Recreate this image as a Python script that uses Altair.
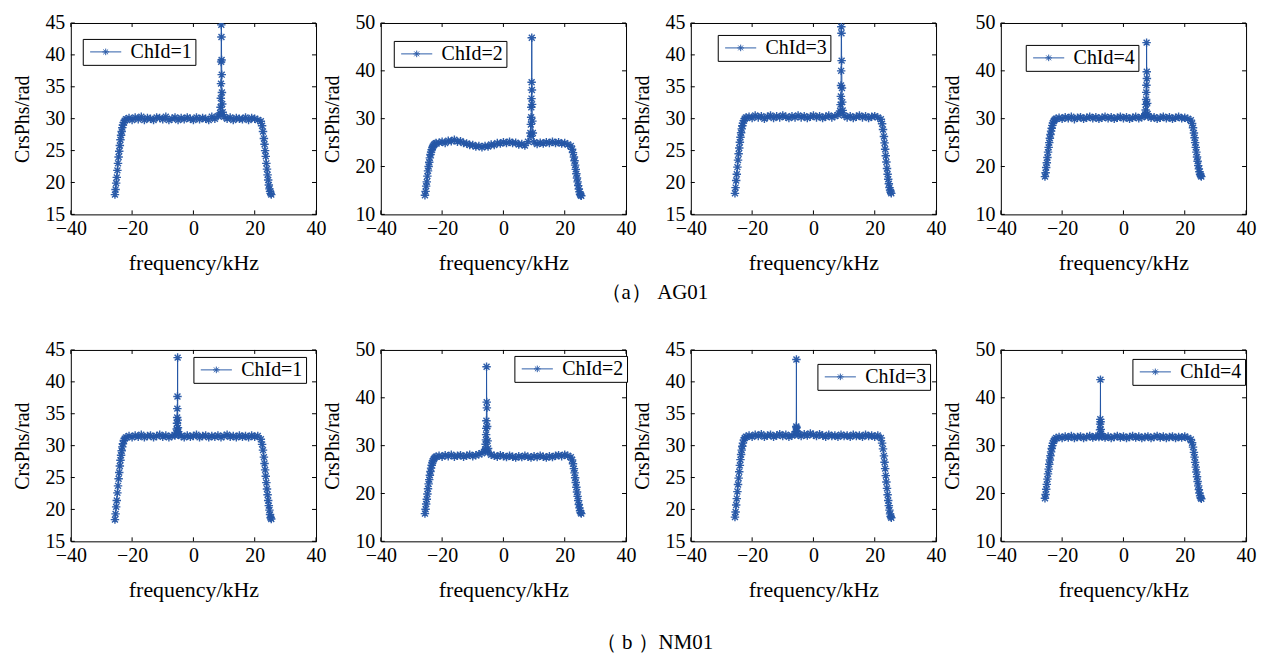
import altair as alt
import pandas as pd

BLUE = "#2456a6"
FONT = "Liberation Serif"
STAR = "M-1,0H1M0,-1V1M-0.7,-0.7L0.7,0.7M-0.7,0.7L0.7,-0.7"
LEG_SYM = "M-2.6,0H2.6M-0.55,0H0.55M0,-0.55V0.55M-0.4,-0.4L0.4,0.4M-0.4,0.4L0.4,-0.4"
W, H = 246, 192

# common frequency grid (kHz) for the body of each curve
F_LEFT = [-25.6, -25.4, -25.2, -25.0, -24.8, -24.6, -24.4, -24.2, -24.0, -23.8,
          -23.6, -23.4, -23.2, -23.0, -22.7, -22.4, -22.0]
F_FLAT = [-21, -20, -19, -18, -17, -16, -15, -14, -13, -12, -11, -10, -9, -8, -7,
          -6, -5, -4, -3, -2, -1, 0, 1, 2, 3, 4, 5, 6, 7, 8, 9, 10, 11, 12, 13, 14,
          15, 16, 17, 18, 19, 20, 21]
F_RIGHT = [22.0, 22.4, 22.7, 23.0, 23.2, 23.4, 23.6, 23.8, 24.0, 24.2, 24.4, 24.6,
           24.8, 25.0, 25.2, 25.4]
BODY_F = F_LEFT + F_FLAT + F_RIGHT

X_TICKS = [-40, -20, 0, 20, 40]
Y_TICKS_A = [15, 20, 25, 30, 35, 40, 45]
Y_TICKS_B = [10, 20, 30, 40, 50]

# ---------------- (a) AG01 ----------------
A1_BODY = [18.1, 18.9, 19.9, 20.8, 21.9, 23.0, 24.0, 24.9, 25.8, 26.7, 27.4, 28.0, 28.6, 29.0, 29.4, 29.7, 29.9,
           30.1, 29.8, 30.2, 29.9, 30.3, 29.8, 30.1, 30.0, 29.8, 30.2, 30.1, 29.9, 30.3, 29.8, 30.0, 30.2, 29.8,
           30.1, 29.9, 30.2, 30.0, 29.8, 30.2, 29.9, 30.1, 30.0, 29.8, 30.3, 30.0, 30.4, 30.7, 30.3, 30.0, 30.2,
           29.8, 30.1, 30.0, 29.9, 30.2, 29.8, 30.1, 30.0, 29.8,
           29.6, 28.9, 28.0, 26.9, 26.0, 25.0, 24.1, 23.0, 22.1, 21.2, 20.4, 19.6, 19.0, 18.6, 18.3, 18.1]
A1_SPIKE_F = [8.7, 8.85, 8.95, 9.0, 9.05, 9.1, 9.15, 9.2, 9.25, 9.3, 9.4, 9.55]
A1_SPIKE_V = [30.9, 31.8, 33.2, 35.5, 38.9, 44.7, 42.8, 39.2, 36.9, 34.1, 32.3, 31.0]

A2_BODY = [14.0, 14.8, 15.9, 16.8, 18.0, 19.1, 20.0, 20.9, 21.8, 22.5, 23.0, 23.5, 23.9, 24.2, 24.5, 24.7, 24.9,
           25.0, 25.2, 24.9, 25.4, 25.3, 25.6, 25.2, 25.3, 24.9, 24.8, 24.5, 24.5, 24.2, 24.3, 24.0, 24.3, 24.2,
           24.6, 24.5, 24.9, 24.8, 25.1, 24.9, 25.2, 24.9, 25.0, 24.6, 24.7, 24.4, 25.2, 26.3, 25.1, 24.7, 25.0,
           24.8, 25.1, 24.9, 25.2, 24.9, 25.1, 24.8, 24.9, 24.6,
           24.3, 23.6, 22.9, 22.0, 21.2, 20.3, 19.4, 18.5, 17.6, 16.8, 16.0, 15.3, 14.7, 14.2, 14.0, 13.9]
A2_SPIKE_F = [8.8, 8.95, 9.05, 9.1, 9.15, 9.2, 9.25, 9.3, 9.35, 9.45, 9.6]
A2_SPIKE_V = [27.0, 28.8, 30.3, 32.4, 34.2, 37.6, 46.9, 36.0, 33.0, 29.5, 27.0]

A3_BODY = [18.3, 19.2, 20.3, 21.3, 22.4, 23.5, 24.5, 25.4, 26.3, 27.1, 27.8, 28.4, 28.9, 29.3, 29.7, 30.0, 30.2,
           30.3, 30.1, 30.5, 30.2, 30.4, 30.0, 30.3, 30.5, 30.1, 30.4, 30.2, 30.5, 30.3, 30.1, 30.4, 30.2, 30.5,
           30.2, 30.4, 30.1, 30.3, 30.5, 30.2, 30.4, 30.1, 30.3, 30.5, 30.2, 30.4, 30.6, 31.0, 30.5, 30.2, 30.4,
           30.1, 30.3, 30.5, 30.2, 30.4, 30.1, 30.3, 30.4, 30.2,
           29.9, 29.2, 28.3, 27.2, 26.2, 25.2, 24.2, 23.2, 22.2, 21.3, 20.5, 19.8, 19.2, 18.8, 18.5, 18.3]
A3_SPIKE_F = [8.7, 8.85, 8.95, 9.0, 9.05, 9.1, 9.15, 9.2, 9.3, 9.4, 9.55]
A3_SPIKE_V = [31.2, 32.2, 33.5, 35.2, 37.5, 44.4, 43.4, 39.1, 34.8, 32.6, 31.3]

A4_BODY = [17.9, 18.7, 19.8, 20.8, 21.9, 23.0, 24.0, 25.0, 25.9, 26.7, 27.4, 28.0, 28.6, 29.1, 29.5, 29.8, 30.0,
           30.2, 30.0, 30.3, 30.1, 30.4, 29.9, 30.2, 30.3, 30.0, 30.2, 30.4, 30.1, 30.3, 30.0, 30.2, 30.4, 30.1,
           30.3, 30.0, 30.2, 30.4, 30.1, 30.3, 30.0, 30.2, 30.4, 30.1, 30.3, 30.6, 30.5, 30.2, 30.3, 30.0, 30.2,
           30.4, 30.1, 30.3, 30.0, 30.2, 30.4, 30.1, 30.2, 30.0,
           29.7, 29.0, 28.1, 27.0, 26.0, 25.0, 24.0, 23.0, 22.0, 21.1, 20.2, 19.5, 18.9, 18.4, 18.1, 17.9]
A4_SPIKE_F = [7.1, 7.25, 7.35, 7.4, 7.45, 7.5, 7.55, 7.6, 7.65, 7.75, 7.9]
A4_SPIKE_V = [30.9, 31.8, 33.0, 34.0, 35.5, 37.0, 45.9, 39.8, 38.4, 33.2, 31.0]

# ---------------- (b) NM01 ----------------
B1_BODY = [18.4, 19.3, 20.4, 21.4, 22.6, 23.7, 24.8, 25.8, 26.8, 27.7, 28.5, 29.2, 29.8, 30.3, 30.8, 31.1, 31.3,
           31.5, 31.3, 31.6, 31.4, 31.7, 31.3, 31.5, 31.6, 31.3, 31.5, 31.7, 31.4, 31.6, 31.3, 31.5, 31.6, 31.8,
           31.5, 31.3, 31.6, 31.4, 31.5, 31.7, 31.3, 31.5, 31.6, 31.3, 31.5, 31.4, 31.6, 31.3, 31.5, 31.7, 31.4,
           31.5, 31.3, 31.6, 31.4, 31.5, 31.3, 31.6, 31.4, 31.5,
           31.0, 30.2, 29.3, 28.2, 27.2, 26.2, 25.2, 24.2, 23.2, 22.3, 21.4, 20.6, 19.9, 19.2, 18.7, 18.5]
B1_SPIKE_F = [-5.6, -5.45, -5.35, -5.3, -5.25, -5.2, -5.15, -5.1, -5.05, -4.95, -4.8]
B1_SPIKE_V = [32.0, 32.6, 33.5, 34.4, 35.8, 37.7, 43.8, 34.0, 32.8, 32.2, 31.8]

B2_BODY = [15.8, 16.7, 17.8, 18.8, 19.9, 21.0, 22.0, 22.9, 23.8, 24.6, 25.3, 25.9, 26.4, 26.8, 27.2, 27.5, 27.7,
           27.9, 27.7, 28.0, 27.8, 28.1, 27.7, 27.9, 28.0, 27.7, 27.9, 28.1, 27.8, 28.0, 28.2, 28.4, 28.9, 28.6,
           28.1, 27.9, 27.7, 28.0, 27.8, 27.6, 27.9, 27.7, 27.5, 27.8, 27.6, 27.9, 27.7, 27.5, 27.8, 27.6, 27.9,
           27.7, 27.5, 27.8, 27.6, 27.9, 28.0, 27.8, 28.1, 27.9,
           27.6, 27.0, 26.2, 25.2, 24.3, 23.3, 22.3, 21.3, 20.3, 19.4, 18.5, 17.7, 17.0, 16.4, 16.0, 15.8]
B2_SPIKE_F = [-6.0, -5.8, -5.7, -5.65, -5.6, -5.55, -5.5, -5.45, -5.4, -5.3, -5.15, -5.0]
B2_SPIKE_V = [29.2, 30.3, 31.2, 32.3, 33.6, 35.2, 46.5, 39.1, 37.9, 34.0, 31.0, 29.4]

B3_BODY = [18.8, 19.6, 20.7, 21.7, 22.8, 23.9, 24.9, 25.9, 26.9, 27.8, 28.6, 29.3, 29.9, 30.4, 30.9, 31.2, 31.4,
           31.6, 31.4, 31.7, 31.5, 31.8, 31.4, 31.6, 31.7, 31.4, 31.6, 31.8, 31.5, 31.7, 31.4, 31.6, 31.8, 31.7,
           31.5, 31.8, 31.6, 31.9, 31.7, 31.5, 31.8, 31.6, 31.4, 31.7, 31.5, 31.6, 31.4, 31.7, 31.5, 31.6, 31.4,
           31.7, 31.5, 31.6, 31.4, 31.7, 31.5, 31.6, 31.4, 31.6,
           31.2, 30.4, 29.5, 28.4, 27.4, 26.4, 25.3, 24.3, 23.3, 22.3, 21.4, 20.6, 19.9, 19.3, 18.9, 18.7]
B3_SPIKE_F = [-5.7, -5.6, -5.55, -5.5, -5.45, -5.35]
B3_SPIKE_V = [32.2, 33.0, 43.5, 32.8, 32.3, 31.9]

B4_BODY = [19.0, 19.8, 20.9, 21.9, 23.0, 24.1, 25.1, 26.1, 27.0, 27.9, 28.7, 29.4, 30.0, 30.5, 31.0, 31.3, 31.6,
           31.8, 31.6, 31.9, 31.7, 32.0, 31.6, 31.8, 31.9, 31.6, 31.8, 32.0, 31.7, 31.9, 31.8, 32.0, 31.7, 31.9,
           31.6, 31.8, 32.0, 31.7, 31.9, 31.6, 31.8, 32.0, 31.7, 31.9, 31.6, 31.8, 31.9, 31.6, 31.8, 32.0, 31.7,
           31.9, 31.6, 31.8, 31.9, 31.6, 31.8, 31.7, 31.9, 31.6,
           31.3, 30.6, 29.7, 28.6, 27.6, 26.5, 25.5, 24.5, 23.5, 22.5, 21.6, 20.8, 20.1, 19.5, 19.1, 18.9]
B4_SPIKE_F = [-7.8, -7.65, -7.6, -7.55, -7.5, -7.45, -7.4, -7.3, -7.15]
B4_SPIKE_V = [32.1, 33.3, 34.5, 35.5, 43.8, 35.0, 33.4, 32.5, 32.0]


def axis_x():
    return alt.Axis(values=X_TICKS, title="frequency/kHz", grid=False, domain=False, ticks=False,
                    labelFlush=False, labelOverlap=False, labelFont=FONT, labelFontSize=20,
                    labelColor="black", labelPadding=4, titleFont=FONT, titleFontSize=22,
                    titleFontWeight="normal", titleColor="black", titlePadding=14, format="d")


def axis_y(vals):
    return alt.Axis(values=vals, title="CrsPhs/rad", grid=False, domain=False, ticks=False,
                    labelOverlap=False, labelFont=FONT, labelFontSize=20, labelColor="black",
                    labelPadding=6, titleFont=FONT, titleFontSize=20, titleFontWeight="normal",
                    titleColor="black", titlePadding=12, format="d")


def panel(label, body, sf, sv, ydom, yticks, legx, legy):
    pts = list(zip(BODY_F, body)) + list(zip(sf, sv))
    pts = sorted(pts, key=lambda p: p[0])
    df = pd.DataFrame({"f": [p[0] for p in pts], "v": [p[1] for p in pts],
                       "o": list(range(len(pts))), "ch": [label] * len(pts)})
    x = alt.X("f:Q", scale=alt.Scale(domain=[-40, 40], nice=False, zero=False), axis=axis_x())
    y = alt.Y("v:Q", scale=alt.Scale(domain=ydom, nice=False, zero=False), axis=axis_y(yticks))
    leg = alt.Legend(orient="none", legendX=legx, legendY=legy, title=None, labelFont=FONT,
                     labelFontSize=20, labelColor="black", symbolType=LEG_SYM, symbolSize=144,
                     symbolStrokeWidth=1, symbolOffset=10, labelOffset=15, padding=3,
                     strokeColor="black", fillColor="white")
    color = alt.Color("ch:N", scale=alt.Scale(domain=[label], range=[BLUE]), legend=leg)
    line = alt.Chart(df).mark_line(strokeWidth=1, clip=True).encode(x=x, y=y, color=color, order="o:Q")
    mk = alt.Chart(df).mark_point(shape=STAR, size=72, filled=False, strokeWidth=1.4,
                                  opacity=0.95, clip=True).encode(x=x, y=y, color=color)
    xt = pd.DataFrame({"f": X_TICKS})
    yt = pd.DataFrame({"v": yticks})
    tb = alt.Chart(xt).mark_rule(color="black", strokeWidth=1).encode(
        x=x, y=alt.value(H), y2=alt.value(H - 4))
    tt = alt.Chart(xt).mark_rule(color="black", strokeWidth=1).encode(
        x=x, y=alt.value(0), y2=alt.value(4))
    tl = alt.Chart(yt).mark_rule(color="black", strokeWidth=1).encode(
        y=y, x=alt.value(0), x2=alt.value(4))
    tr = alt.Chart(yt).mark_rule(color="black", strokeWidth=1).encode(
        y=y, x=alt.value(W - 4), x2=alt.value(W))
    return alt.layer(line, mk, tb, tt, tl, tr).properties(width=W, height=H)


row_a = alt.hconcat(
    panel("ChId=1", A1_BODY, A1_SPIKE_F, A1_SPIKE_V, [15, 45], Y_TICKS_A, 12, 16),
    panel("ChId=2", A2_BODY, A2_SPIKE_F, A2_SPIKE_V, [10, 50], Y_TICKS_B, 13, 18),
    panel("ChId=3", A3_BODY, A3_SPIKE_F, A3_SPIKE_V, [15, 45], Y_TICKS_A, 27, 12),
    panel("ChId=4", A4_BODY, A4_SPIKE_F, A4_SPIKE_V, [10, 50], Y_TICKS_B, 25, 22),
    spacing=65, bounds="flush",
).resolve_scale(color="independent").resolve_legend(color="independent").properties(
    title=alt.TitleParams("（a） AG01", orient="bottom", anchor="middle", font=FONT, fontSize=21,
                          fontWeight="normal", color="black", offset=8, dx=20))

row_b = alt.hconcat(
    panel("ChId=1", B1_BODY, B1_SPIKE_F, B1_SPIKE_V, [15, 45], Y_TICKS_A, 123, 7),
    panel("ChId=2", B2_BODY, B2_SPIKE_F, B2_SPIKE_V, [10, 50], Y_TICKS_B, 134, 6),
    panel("ChId=3", B3_BODY, B3_SPIKE_F, B3_SPIKE_V, [15, 45], Y_TICKS_A, 127, 14),
    panel("ChId=4", B4_BODY, B4_SPIKE_F, B4_SPIKE_V, [10, 50], Y_TICKS_B, 132, 9),
    spacing=65, bounds="flush",
).resolve_scale(color="independent").resolve_legend(color="independent").properties(
    title=alt.TitleParams("（ b ）NM01", orient="bottom", anchor="middle", font=FONT, fontSize=21,
                          fontWeight="normal", color="black", offset=32, dx=20))

chart = alt.vconcat(row_a, row_b, spacing=36).resolve_scale(color="independent").resolve_legend(
    color="independent").properties(
    padding={"left": 4, "top": 3, "right": 5, "bottom": 3}, background="white"
).configure_view(stroke="black", strokeWidth=1)

chart.save("out.html", embed_options={"renderer": "svg", "actions": False})
